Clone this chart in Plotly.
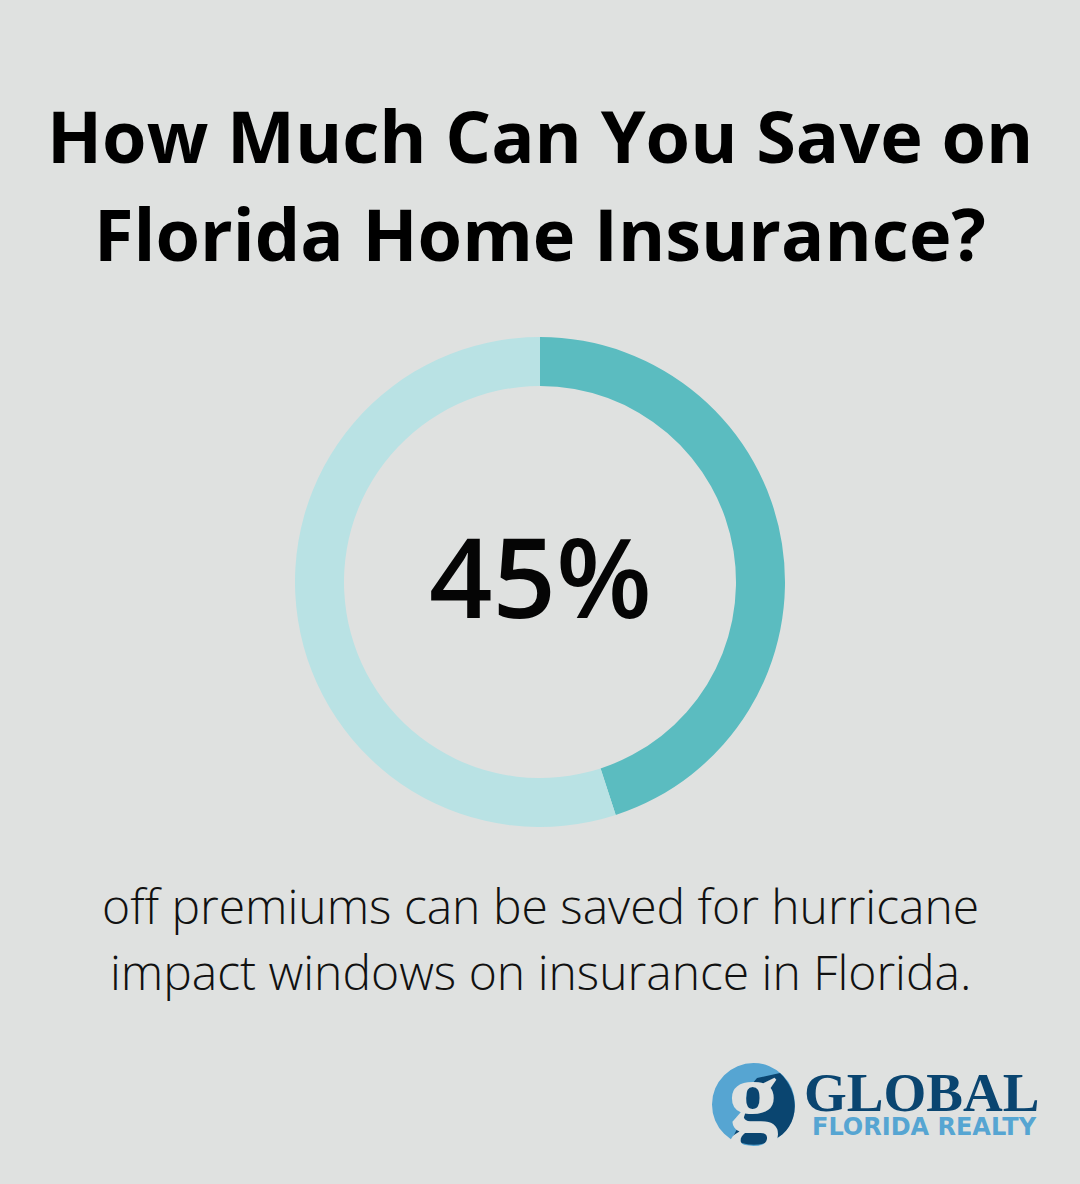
import plotly.graph_objects as go

title_lines = ['How Much Can You Save on', 'Florida Home Insurance?']
slice_labels = ['saved', 'rest']
slice_values = [45, 55]
slice_colors = ['#5bbcc0', '#b9e2e4']
center_text = '45%'
caption_lines = ['off premiums can be saved for hurricane', 'impact windows on insurance in Florida.']
logo_letter = 'g'
logo_name = 'GLOBAL'
logo_sub = 'FLORIDA REALTY'
bg = '#dfe1e0'
logo_dark = '#0a4570'
logo_light = '#56a5d2'

W, H = 1080, 1184


def px(x, y):
    return f'{x / W:.5f} {1 - y / H:.5f}'


fig = go.Figure()
fig.add_trace(
    go.Pie(
        labels=slice_labels,
        values=slice_values,
        hole=0.8,
        sort=False,
        direction='clockwise',
        rotation=0,
        marker={'colors': slice_colors, 'line': {'width': 0}},
        textinfo='none',
        hoverinfo='skip',
        showlegend=False,
        domain={'x': [295 / W, 785 / W], 'y': [1 - 827 / H, 1 - 337 / H]},
    )
)


def label(text, x, y, size, color='#000000', family='Open Sans', weight=400, xanchor='center'):
    fig.add_annotation(
        text=text, x=x / W, y=1 - y / H, xref='paper', yref='paper',
        showarrow=False, xanchor=xanchor, yanchor='middle',
        font={'family': family, 'size': size, 'color': color, 'weight': weight},
    )


label(title_lines[0], 540, 135, 72, weight=700)
label(title_lines[1], 540, 233, 72, weight=700)
label(center_text, 540, 575, 111, color='#050505', weight=600)
label(caption_lines[0], 540, 905, 48, color='#111111', weight=300)
label(caption_lines[1], 540, 971, 48, color='#111111', weight=300)

# logo: light disc, dark right part, g cut out on top
fig.add_shape(type='circle', xref='paper', yref='paper', x0=712 / W, x1=795 / W, y0=1 - 1146 / H, y1=1 - 1063 / H,
              fillcolor=logo_light, line={'width': 0})
dark_path = (
    f'M {px(780, 1073)} '
    f'C {px(803, 1095)} {px(798, 1130)} {px(773, 1140)} '
    f'C {px(760, 1147)} {px(745, 1146)} {px(732, 1139)} '
    f'L {px(745, 1113)} L {px(747, 1090)} L {px(757, 1078)} Z'
)
fig.add_shape(type='path', xref='paper', yref='paper', path=dark_path, fillcolor=logo_dark, line={'width': 0})
label(logo_letter, 753, 1095, 102, color=bg, family='Liberation Serif', weight=700)
label(logo_name, 1041, 1092, 55, color=logo_dark, family='Liberation Serif', weight=700, xanchor='right')
label(logo_sub, 1039, 1127, 24, color=logo_light, family='DejaVu Sans', weight=700, xanchor='right')

fig.update_layout(
    width=W,
    height=H,
    margin={'l': 0, 'r': 0, 't': 0, 'b': 0},
    paper_bgcolor=bg,
    plot_bgcolor=bg,
)
fig.write_html(
    'out.html',
    config={'displayModeBar': False},
    post_script="document.body.style.margin='0';document.body.style.background='#dfe1e0';",
)
